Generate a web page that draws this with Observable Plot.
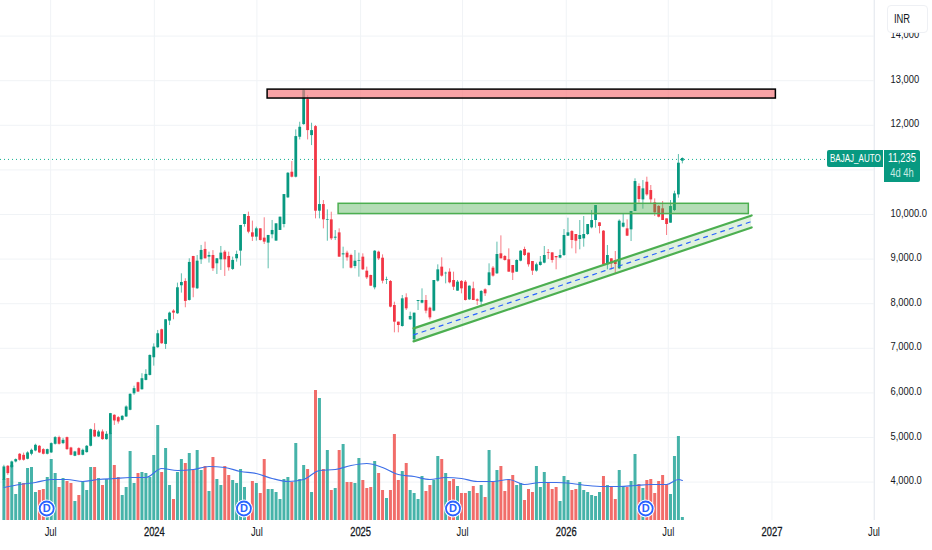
<!DOCTYPE html>
<html><head><meta charset="utf-8">
<script src="https://cdn.jsdelivr.net/npm/d3@7"></script>
<script src="https://cdn.jsdelivr.net/npm/@observablehq/plot@0.6"></script>
<style>
html,body{margin:0;padding:0;background:#fff;overflow:hidden}
#chart{position:relative;width:932px;height:550px;font-family:"Liberation Sans",sans-serif;color:#131722}
#chart svg{display:block}
.tag{position:absolute;background:#089981;color:#fff;font-size:12px;box-sizing:border-box;white-space:nowrap;text-align:center}
.tag span{display:inline-block;transform:scaleX(.78);transform-origin:center}
#name{display:flex;justify-content:center;font-size:11.5px}
#name span{flex:none;transform:scaleX(.7)}
#inr{position:absolute;left:887px;top:5px;width:41px;height:28px;background:#fff;border:1px solid #eef0f4;border-radius:4px;box-sizing:border-box;font-size:12px;line-height:26px;padding-left:6px}
#inr span{display:inline-block;transform:scaleX(.78);transform-origin:left}
</style></head><body><div id="chart"></div>
<script>
const firstWeek = "2023-04-09";
const open = [4041,4355,4325,4452,4624,4600,4512,4624,4698,4803,4728,4624,4654,4848,4997,4863,4997,4765,4579,4750,4601,4661,4803,5161,5012,5124,4952,5072,5498,5445,5385,5460,5610,5980,6228,6071,6280,6392,6788,7012,7416,7087,7610,7834,7774,8402,8499,8073,9059,8334,8984,9216,9044,9081,8895,8984,9156,9059,8768,9007,9179,9776,9955,9589,9492,9679,9470,9358,9545,9403,9642,9775,10373,10948,10836,11732,12016,12576,11769,11971,10074,10223,9865,9880,9469,9588,9095,9133,9080,8834,8953,9043,8729,8632,8356,9155,9020,8520,8498,7960,7586,7489,8132,7639,7190,8050,8012,8072,7900,7833,8505,8819,8670,8707,8520,8281,8498,8483,8087,8334,8087,8035,8311,8408,8797,8670,9118,9058,8984,8857,8707,8954,9215,9133,8946,8730,8857,8909,9140,9140,9058,9021,9081,9514,9618,9551,9439,9454,9551,9701,9865,9813,9626,8872,9006,8969,8782,9716,9678,9656,10067,10627,10328,10724,10537,10261,10179,10127,9902,9805,10089,10440,11195];
const close = [4340,4190,4452,4504,4490,4490,4654,4713,4825,4654,4624,4728,4863,4997,4848,4937,4728,4601,4676,4601,4713,4803,5176,5012,5124,4952,5072,5535,5371,5348,5475,5684,5968,6095,6019,6318,6415,6840,7027,7326,7102,7640,7789,7789,8357,8476,8051,8925,8349,8954,9194,9007,9081,8783,9007,9134,8984,8805,8970,9104,9754,10000,9604,9492,9679,9418,9380,9530,9642,9791,9940,10447,10925,10836,11747,11956,12778,11881,11881,10074,10223,9880,9880,9454,9491,9043,9118,9028,8796,8953,8968,8759,8580,8393,9177,9005,8505,8535,7922,7586,7511,8109,7885,7713,7788,8072,8072,7833,7683,8520,8759,8617,8684,8468,8370,8483,8333,8072,8393,8072,8057,8274,8222,8692,8618,9103,9006,8969,8707,8685,8969,9178,9081,8872,8730,8872,8931,9081,9125,8969,9029,9081,9529,9589,9417,9402,9529,9551,9775,9865,10201,9731,8872,9081,8894,8879,9850,9805,9514,10067,10739,10336,10575,10440,10328,10037,9940,9865,9775,10179,10463,11150,11255];
const high = [4377,4370,4470,4520,4640,4650,4680,4740,4850,4820,4750,4740,4880,5020,5030,4980,5010,4780,4690,4770,4740,4820,5190,5310,5160,5170,5130,5540,5510,5470,5490,5710,5980,6150,6240,6430,6520,6850,7100,7400,7430,7640,7810,7864,8461,8670,8559,9007,9060,9081,9306,9380,9156,9190,9010,9283,9194,9156,9044,9179,9754,10000,10053,9851,9716,9679,9926,9530,9866,9791,9940,10447,10940,11187,11897,12068,12793,12666,12046,11994,10851,10313,10104,10051,9640,9678,9267,9177,9110,9192,9133,9118,8819,8640,9192,9177,9095,8595,8520,8034,7586,8184,8221,7810,7788,8072,8333,8184,7922,8520,8871,9028,8707,8782,8707,8520,8520,8520,8400,8483,8109,8296,8334,8894,8834,9380,9521,9080,9230,8857,8984,9190,9267,9133,8946,8909,9058,9282,9215,9140,9058,9207,9663,9917,9640,9551,9865,9955,9775,10089,10201,9813,9640,9305,9006,9170,9880,10000,9880,10067,10800,10687,10761,10836,10650,10351,10201,10291,9902,10313,10522,11344,11270];
const low = [3892,4150,4300,4430,4470,4470,4500,4590,4680,4640,4610,4610,4640,4830,4830,4840,4710,4590,4570,4590,4590,4650,4790,5000,5000,4940,4940,5060,5270,5300,5370,5450,5600,5945,6010,6060,6270,6380,6600,7000,7090,6975,7510,7640,7760,8237,7909,8060,8133,8320,8880,9000,8910,8723,8656,8745,8611,8730,8745,8932,8842,9716,9567,9395,9403,9403,9328,8783,9455,9403,9642,9700,10360,10821,10820,11672,12000,11672,11545,9902,9902,9678,9401,9416,9416,9043,8782,8953,8780,8782,8595,8744,8542,8385,8311,8968,8445,8430,7907,7347,7347,7474,7847,7624,7138,7847,7997,7773,7638,7820,8482,8595,8445,8445,8296,8281,8221,8060,8072,8070,7960,7923,8162,8394,8595,8655,9006,8955,8707,8520,8700,8940,9058,8820,8633,8707,8842,8894,8991,8909,8760,9006,9058,9506,9230,9118,9208,9267,9529,9678,9693,9566,8860,8760,8760,8655,8767,9700,9506,9394,10067,10254,10119,10410,10224,9955,9925,9865,9529,9805,10067,10365,11135];
const volume = [41,42,55,26,38,37,52,53,28,30,31,43,61,47,33,42,39,37,19,25,39,30,53,53,42,35,41,87,55,43,25,33,69,37,47,48,47,43,65,95,48,72,35,21,48,61,57,67,50,70,50,54,29,63,41,35,54,45,40,37,51,33,12,39,37,27,61,31,31,28,21,41,43,38,77,41,
55,51,28,130,122,51,70,30,32,70,76,38,38,37,62,40,32,33,59,47,30,22,30,86,40,49,57,30,27,21,44,29,35,40,64,61,47,39,41,34,27,27,29,34,27,35,23,70,38,50,54,29,41,45,35,37,20,31,28,54,33,48,37,31,33,19,44,40,30,31,38,30,28,25,24,28,44,35,34,21,50,34,33,39,66,36,32,40,41,27,39,45,36,26,64,84,3];
const volumeDirection = ["trtttrtttr","rtttrtrrtr","tttrtrttrr","ttttrttttt","rttrttrtrt","trtrttrrtt","ttrrtrrttt","tttrtt",
  "trtrtrtrtr","trrttrrrtr","rtrrrtrttt","trrttrtrrt","rrtrrtrtrt","rrrrttrrrt","ttrrrtttrr","ttttttrtrr","ttrttrtrrr","rrrtttt"].join("");
const maBars = [1,5,9,13,17,21,25,29,33,37,41,45,49,53,57,61,65,69,73,77,81,85,89,93,97,101,105,109,113,117,121,125,129,133,137,141,145,149,153,157,161,165,169,172,173];
const maVolume = [33,36,38,41,41,39,41,42,43,43,52,50,51,54,53,49,47,42,39,41,50,51,55,57,53,46,44,41,43,42,39,39,41,36,38,38,37,35,34,34,35,36,36,41,40];
const dividendDates = ["2023-06-24","2024-06-08","2025-06-14","2026-05-22"];
const tickDates = ["2023-07-01","2024-01-01","2024-07-01","2025-01-01","2025-07-01","2026-01-01","2026-07-01","2027-01-01","2027-07-01"];
const tickLabels = ["Jul","2024","Jul","2025","Jul","2026","Jul","2027","Jul"];
const priceTicks = [14000,13000,12000,11000,10000,9000,8000,7000,6000,5000,4000];
const priceLabels = ["14,000","13,000","12,000","","10,000.0","9,000.0","8,000.0","7,000.0","6,000.0","5,000.0","4,000.0"];
const lastPrice = 11235;
const resistance = {from:"2024-07-20",to:"2027-01-08",top:12800,bottom:12600};
const support = {from:"2024-11-23",to:"2026-11-21",top:10240,bottom:10010};
const channelDates = ["2025-04-05","2026-11-26"];
const channelTop = [7446,9978];
const channelMid = [7300,9843];
const channelBottom = [7155,9709];
const yTop = 14798, yBase = 3139;
const unitsPerVolume = (yTop-yBase)/520;

const UP="#089981", DOWN="#f23645", VUP="#26a69a", VDOWN="#ef5350", GRID="#f0f3f6";
const dt = s => new Date(s+"T00:00:00Z");
const dateOf = i => d3.utcDay.offset(dt(firstWeek), 7*i);
const rows = open.map((o,i)=>({d:dateOf(i),o,c:close[i],h:high[i],l:low[i],v:volume[i],vd:volumeDirection[i]}));
const ma = maBars.map((b,i)=>({d:dateOf(b-1),v:yBase+maVolume[i]*unitsPerVolume}));
const ticks = tickDates.map(dt);
const labelOf = new Map(ticks.map((t,i)=>[+t,tickLabels[i]]));
const priceLabelOf = new Map(priceTicks.map((p,i)=>[p,priceLabels[i]]));
const xDomain = [dt("2023-04-03"), dt("2027-07-02")];
const chan = channelDates.map((s,i)=>({d:dt(s),t:channelTop[i],m:channelMid[i],b:channelBottom[i]}));
const zone = z => [{x1:dt(z.from),x2:dt(z.to),y1:z.bottom,y2:z.top}];
const divs = dividendDates.map(s=>({d:dt(s),y:3408}));

const plot = Plot.plot({
  width:932,height:550,marginLeft:0,marginRight:58,marginTop:0,marginBottom:30,
  style:{fontFamily:'"Liberation Sans",sans-serif',background:"#fff",overflow:"hidden"},
  x:{type:"time",domain:xDomain,range:[0,874],label:null},
  y:{domain:[yBase,yTop],range:[520,0],label:null},
  color:{type:"identity"},
  marks:[
    Plot.ruleX(ticks,{x:d=>d,y1:yBase,y2:yTop,stroke:GRID,strokeWidth:1}),
    Plot.ruleY(priceTicks,{y:d=>d,x1:xDomain[0],x2:xDomain[1],stroke:GRID,strokeWidth:1}),
    Plot.ruleX([xDomain[1]],{x:d=>d,y1:yBase,y2:yTop,stroke:"#e9ecf1"}),
    Plot.ruleX(rows,{x:"d",y1:yBase,y2:d=>yBase+d.v*unitsPerVolume,stroke:d=>d.vd==="t"?VUP:VDOWN,strokeWidth:3,strokeOpacity:.85}),
    Plot.line(ma,{x:"d",y:"v",stroke:"#3d6fe8",strokeWidth:1.2,curve:"monotone-x"}),
    Plot.ruleY([lastPrice],{x1:xDomain[0],x2:xDomain[1],stroke:"#12b090",strokeWidth:1,strokeDasharray:"1,3"}),
    Plot.ruleX(rows,{x:"d",y1:"l",y2:"h",stroke:d=>d.c>=d.o?UP:DOWN,strokeWidth:1,strokeOpacity:.65}),
    Plot.ruleX(rows,{x:"d",y1:"o",y2:"c",stroke:d=>d.c>=d.o?UP:DOWN,strokeWidth:2.8}),
    Plot.area(chan,{x1:"d",y1:"b",y2:"t",fill:"#4caf50",fillOpacity:.18}),
    Plot.line(chan,{x:"d",y:"t",stroke:"#4caf50",strokeWidth:2.2}),
    Plot.line(chan,{x:"d",y:"b",stroke:"#4caf50",strokeWidth:2.2}),
    Plot.line(chan,{x:"d",y:"m",stroke:"#2962ff",strokeWidth:1.2,strokeDasharray:"4,5"}),
    Plot.rect(zone(support),{x1:"x1",x2:"x2",y1:"y1",y2:"y2",fill:"#4caf50",fillOpacity:.42,stroke:"#4caf50",strokeWidth:1.5}),
    Plot.rect(zone(resistance),{x1:"x1",x2:"x2",y1:"y1",y2:"y2",fill:"#f77c80",fillOpacity:.7,stroke:"#000",strokeWidth:1.5}),
    Plot.dot(divs,{x:"d",y:"y",r:9,fill:"#fff",stroke:"none"}),
    Plot.dot(divs,{x:"d",y:"y",r:7,fill:"#fff",stroke:"#2962ff",strokeWidth:1.8}),
    Plot.text(divs,{x:"d",y:"y",text:()=>"D",fill:"#2962ff",fontSize:11,fontWeight:"bold"}),
    Plot.axisX({anchor:"bottom",ticks:ticks,tickSize:0,tickPadding:7,fontSize:12,label:null,tickFormat:t=>labelOf.get(+t),fill:"#131722"}),
    Plot.axisY({anchor:"right",ticks:priceTicks,tickSize:0,tickPadding:16,textAnchor:"start",dy:-1.5,fontSize:11,label:null,tickFormat:p=>priceLabelOf.get(p),fill:"#131722"})
  ]
});
const chart=document.getElementById("chart");
chart.appendChild(plot);
// The reference's axis type is condensed; no condensed family is installed, so narrow the real text.
plot.querySelectorAll('g[aria-label="x-axis tick label"] text, g[aria-label="y-axis tick label"] text').forEach(t=>{
  const xAxis = t.parentNode.getAttribute("aria-label").startsWith("x");
  t.setAttribute("lengthAdjust","spacingAndGlyphs");
  t.setAttribute("textLength",(t.getComputedTextLength()*(xAxis?.78:.85)).toFixed(1));
  if(/^\d{4}$/.test(t.textContent)){t.setAttribute("stroke","#131722");t.setAttribute("stroke-width",".3");}
});
chart.insertAdjacentHTML("beforeend",`
<div id="inr"><span>INR</span></div>
<div class="tag" id="name" style="left:827px;top:150px;width:56px;height:17px;line-height:17px;border-radius:2px 0 0 2px"><span>BAJAJ_AUTO</span></div>
<div class="tag" style="left:884px;top:150px;width:36px;height:32px;padding-top:1px;line-height:15px;border-radius:0 2px 2px 0"><span>11,235</span><br><span style="color:#c9ece4">4d 4h</span></div>`);
</script></body></html>
